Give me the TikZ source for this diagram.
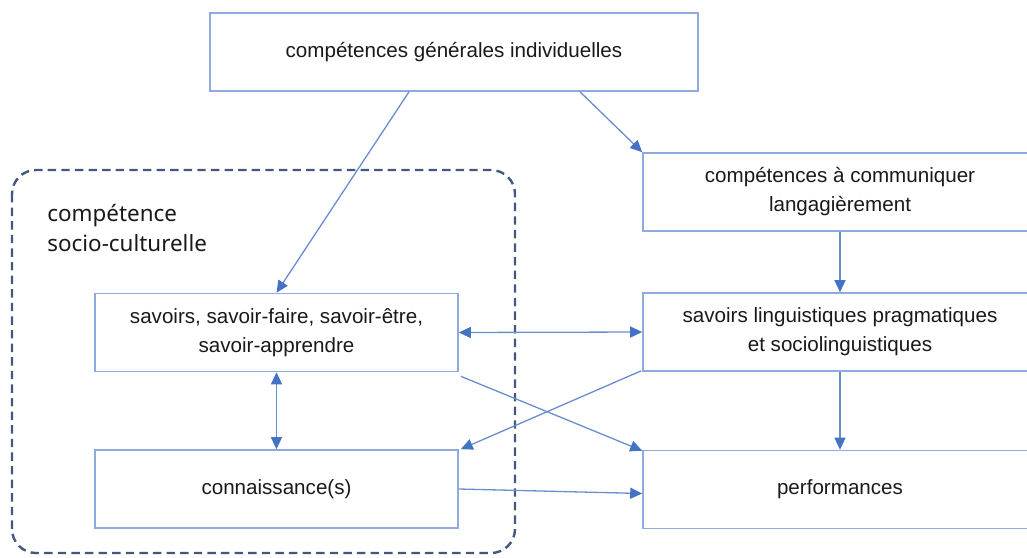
\documentclass[tikz,border=0pt]{standalone}
\usepackage{fontspec}
\setmainfont{Liberation Sans}
\newfontfamily\labelfont{Noto Sans}
\usetikzlibrary{arrows.meta,calc}
\definecolor{boxline}{HTML}{8FAADC}
\definecolor{arrowc}{HTML}{4472C4}
\definecolor{linec}{HTML}{6A8DD0}
\definecolor{dashc}{HTML}{44587F}
\tikzset{
  box/.style={draw=boxline, line width=0.8pt, rectangle, inner sep=0pt, align=center,
    minimum height=39pt, font=\fontsize{10.3}{14.5}\selectfont, text=black!90},
  tip/.style={Triangle[length=6pt,width=5.5pt,color=arrowc]},
  arr/.style={draw=linec, line width=0.65pt, -{Triangle[length=6pt,width=5.5pt,color=arrowc]}},
  darr/.style={draw=linec, line width=0.65pt, {Triangle[length=6pt,width=5.5pt,color=arrowc]}-{Triangle[length=6pt,width=5.5pt,color=arrowc]}},
}
\begin{document}
\begin{tikzpicture}[x=0.5pt,y=-0.5pt]
\useasboundingbox (0,0) rectangle (1027,557);
\clip (0,0) rectangle (1027,557);
% dashed group
\draw[dashc, line width=1.2pt, dash pattern=on 4.2pt off 2.6pt, rounded corners=12pt] (12,170) rectangle (515,553);
\node[anchor=west, align=left, inner sep=0pt, font=\labelfont\fontsize{11.2}{15}\selectfont, text=black!90] (lab) at (47,228) {compétence\\socio-culturelle};
% boxes
\node[box, minimum width=244pt] (top) at (454,52) {compétences générales individuelles};
\node[box, minimum width=197pt] (comm) at (840,192) {compétences à communiquer\\langagièrement};
\node[box, minimum width=197pt] (sl) at (840,332) {savoirs linguistiques pragmatiques\\et sociolinguistiques};
\node[box, minimum width=197pt] (perf) at (840,489.5) {performances};
\node[box, minimum width=181.5pt] (sav) at (276.5,332.5) {savoirs, savoir-faire, savoir-être,\\savoir-apprendre};
\node[box, minimum width=181.5pt] (conn) at (276.5,489) {connaissance(s)};
% connectors
\draw[arr] ($(top.south)+(-45,0)$) -- (sav.north);
\draw[arr] ($(top.south)+(126,0)$) -- (comm.north west);
\draw[arr] (comm.south) -- (sl.north);
\draw[arr] (sl.south) -- (perf.north);
\draw[darr] (sav.east) -- (sl.west);
\draw[darr] (sav.south) -- (conn.north);
\draw[arr] ($(sav.south east)+(2,4)$) -- ($(perf.north west)+(0,1)$);
\draw[arr] ($(sl.south west)+(-1,-1)$) -- ($(conn.north east)+(2,0)$);
\draw[arr] (conn.east) -- ($(perf.west)+(0,4)$);
\end{tikzpicture}
\end{document}
